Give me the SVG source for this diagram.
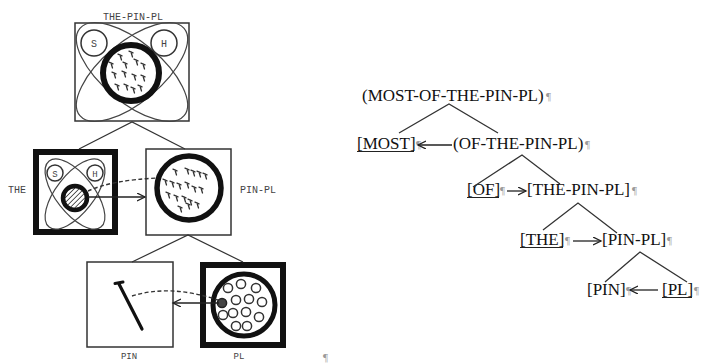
<svg xmlns="http://www.w3.org/2000/svg" xmlns:xlink="http://www.w3.org/1999/xlink" width="705" height="363" viewBox="0 0 705 363">
<style>
.bg{fill:#fff}
.box{fill:#fff;stroke:#333;stroke-width:1.5}
.tbox{fill:#fff;stroke:#111;stroke-width:6}
.thin{fill:none;stroke:#444;stroke-width:1.2}
.conn{fill:none;stroke:#333;stroke-width:1.2}
.dash{fill:none;stroke:#333;stroke-width:1.4;stroke-dasharray:4 2.5}
.sml{fill:none;stroke:#333;stroke-width:1.5}
.mono{font-family:"Liberation Mono","DejaVu Sans Mono",monospace;font-size:10px;fill:#444}
.lab{font-family:"Liberation Serif","Times New Roman",serif;font-size:17px;fill:#111}
.pil{font-family:"Liberation Serif","Times New Roman",serif;font-size:11px;fill:#999}
.tl{fill:none;stroke:#333;stroke-width:1.3}
.ul{stroke:#222;stroke-width:1}
.arr{fill:none;stroke:#222;stroke-width:1.3}
</style>
<defs>
<marker id="ah" markerUnits="userSpaceOnUse" markerWidth="10" markerHeight="10" refX="8" refY="4" orient="auto">
<path d="M0,0 L8,4 L0,8" fill="none" stroke="#222" stroke-width="1.3"/>
</marker>
<g id="n"><path d="M-2,-0.9 L2,0.9 M0,0 L1.5,5" fill="none" stroke="#333" stroke-width="1.3" stroke-linecap="round"/></g>
<pattern id="hatch" patternUnits="userSpaceOnUse" width="3.5" height="3.5" patternTransform="rotate(45)">
<rect width="3.5" height="3.5" fill="#fff"/>
<line x1="0" y1="0" x2="0" y2="3.5" stroke="#333" stroke-width="1.6"/>
</pattern>
</defs>
<rect class="bg" width="705" height="363"/>

<g id="the-pin-pl">
<text class="mono" x="133" y="20" text-anchor="middle">THE-PIN-PL</text>
<rect class="box" x="75" y="23" width="114" height="98"/>
<ellipse class="thin" cx="132" cy="72" rx="68" ry="30" transform="rotate(40 132 72)"/>
<ellipse class="thin" cx="132" cy="72" rx="68" ry="30" transform="rotate(-40 132 72)"/>
<circle class="sml" cx="94" cy="43" r="13" fill="#fff"/>
<circle class="sml" cx="164" cy="43" r="13" fill="#fff"/>
<text class="mono" x="94" y="46.5" text-anchor="middle">S</text>
<text class="mono" x="164" y="46.5" text-anchor="middle">H</text>
<circle cx="131" cy="73" r="28" fill="#fff" stroke="#111" stroke-width="6"/>
<use xlink:href="#n" x="120" y="55"/><use xlink:href="#n" x="131" y="52"/>
<use xlink:href="#n" x="111" y="63"/><use xlink:href="#n" x="125" y="63"/>
<use xlink:href="#n" x="136" y="60"/><use xlink:href="#n" x="143" y="64"/>
<use xlink:href="#n" x="114" y="73"/><use xlink:href="#n" x="124" y="72"/>
<use xlink:href="#n" x="134" y="75"/><use xlink:href="#n" x="143" y="76"/>
<use xlink:href="#n" x="117" y="85"/><use xlink:href="#n" x="126" y="85"/>
<use xlink:href="#n" x="133" y="88"/><use xlink:href="#n" x="140" y="86"/>
</g>

<g id="the">
<text class="mono" x="8" y="193">THE</text>
<rect class="tbox" x="36" y="152" width="79" height="80"/>
<ellipse class="thin" cx="75" cy="194" rx="42" ry="19" transform="rotate(52 75 194)"/>
<ellipse class="thin" cx="75" cy="194" rx="42" ry="19" transform="rotate(-52 75 194)"/>
<circle class="sml" cx="55" cy="173" r="8" fill="#fff"/>
<circle class="sml" cx="95" cy="173" r="8" fill="#fff"/>
<text class="mono" x="55" y="176.5" text-anchor="middle" style="font-size:9px">S</text>
<text class="mono" x="95" y="176.5" text-anchor="middle" style="font-size:9px">H</text>
<circle cx="75" cy="198" r="12" fill="url(#hatch)" stroke="#111" stroke-width="4.5"/>
</g>

<g id="pin-pl">
<text class="mono" x="240" y="193">PIN-PL</text>
<rect class="box" x="146" y="149" width="85" height="86"/>
<circle cx="189" cy="188" r="32" fill="#fff" stroke="#111" stroke-width="5.5"/>
<use xlink:href="#n" x="175" y="170"/><use xlink:href="#n" x="187" y="169"/>
<use xlink:href="#n" x="193" y="171"/><use xlink:href="#n" x="199" y="172"/>
<use xlink:href="#n" x="205" y="174"/><use xlink:href="#n" x="165" y="180"/>
<use xlink:href="#n" x="172" y="182"/><use xlink:href="#n" x="179" y="184"/>
<use xlink:href="#n" x="187" y="183"/><use xlink:href="#n" x="194" y="187"/>
<use xlink:href="#n" x="201" y="188"/><use xlink:href="#n" x="168" y="193"/>
<use xlink:href="#n" x="176" y="196"/><use xlink:href="#n" x="184" y="197"/>
<use xlink:href="#n" x="190" y="200"/><use xlink:href="#n" x="180" y="207"/>
<use xlink:href="#n" x="188" y="204"/><use xlink:href="#n" x="197" y="203"/>
</g>

<g id="pin">
<rect class="box" x="87" y="262" width="86" height="85"/>
<path d="M119,284 L142,329" stroke="#111" stroke-width="3.2" stroke-linecap="round"/>
<path d="M115,283.5 L123,282" stroke="#111" stroke-width="3" stroke-linecap="round"/>
<text class="mono" x="129" y="359" text-anchor="middle" style="font-size:9px">PIN</text>
</g>

<g id="pl">
<rect class="tbox" x="203" y="265" width="80" height="80"/>
<circle cx="244" cy="305" r="31" fill="#fff" stroke="#111" stroke-width="5"/>
<g class="sml" fill="#fff">
<circle cx="228" cy="288" r="4.6"/><circle cx="241" cy="284" r="4.6"/><circle cx="256" cy="288" r="4.6"/>
<circle cx="236" cy="300" r="4.6"/><circle cx="249" cy="299" r="4.6"/><circle cx="262" cy="302" r="4.6"/>
<circle cx="223" cy="315" r="4.6"/><circle cx="233" cy="313" r="4.6"/><circle cx="246" cy="312" r="4.6"/>
<circle cx="259" cy="317" r="4.6"/><circle cx="236" cy="326" r="4.6"/><circle cx="247" cy="326" r="4.6"/>
</g>
<circle cx="222" cy="303" r="4.6" fill="#444" stroke="#222" stroke-width="1.5"/>
<text class="mono" x="239" y="359" text-anchor="middle" style="font-size:9px">PL</text>
</g>
<text class="pil" x="323" y="361">¶</text>

<g id="r1">
<text class="lab" x="362" y="101">(MOST-OF-THE-PIN-PL)</text>
<text class="pil" x="546" y="100">¶</text>
</g>
<g id="r2-most">
<text class="lab" x="357" y="149">[MOST]</text>
<line class="ul" x1="357" y1="151.5" x2="414" y2="151.5"/>
<text class="pil" x="416" y="148">¶</text>
</g>
<g id="r2-of-the">
<text class="lab" x="453" y="149">(OF-THE-PIN-PL)</text>
<text class="pil" x="585" y="148">¶</text>
</g>
<g id="r3-of">
<text class="lab" x="467" y="195">[OF]</text>
<line class="ul" x1="467" y1="197.5" x2="499" y2="197.5"/>
<text class="pil" x="500" y="194">¶</text>
</g>
<g id="r3-the-pin-pl">
<text class="lab" x="527" y="195">[THE-PIN-PL]</text>
<text class="pil" x="632" y="194">¶</text>
</g>
<g id="r4-the">
<text class="lab" x="520" y="245">[THE]</text>
<line class="ul" x1="520" y1="247.5" x2="563" y2="247.5"/>
<text class="pil" x="565" y="244">¶</text>
</g>
<g id="r4-pin-pl">
<text class="lab" x="602" y="245">[PIN-PL]</text>
<text class="pil" x="667" y="244">¶</text>
</g>
<g id="r5-pin">
<text class="lab" x="587" y="295">[PIN]</text>
<text class="pil" x="626" y="294">¶</text>
</g>
<g id="r5-pl">
<text class="lab" x="662" y="295">[PL]</text>
<line class="ul" x1="662" y1="297.5" x2="692" y2="297.5"/>
<text class="pil" x="694" y="294">¶</text>
</g>

<g id="connectors">
<path class="conn" d="M79,149 L132,122 L185,149"/>
<path class="conn" d="M132,262 L188,235 L243,262"/>
<path class="dash" d="M88,191 Q112,180 158,178"/>
<path class="arr" d="M88,197 L145,197" marker-end="url(#ah)"/>
<path class="dash" d="M132,296 Q170,284 218,300"/>
<path class="arr" d="M219,303 L173,303" marker-end="url(#ah)"/>
<path class="tl" d="M399,133 L449,104 L498,133"/>
<path class="tl" d="M473,187 L522,155 L560,184"/>
<path class="tl" d="M543,230 L578,203 L617,233"/>
<path class="tl" d="M605,282 L640,252 L687,282"/>
<path class="arr" d="M452,145 L418,145" marker-end="url(#ah)"/>
<path class="arr" d="M507,191 L526,191" marker-end="url(#ah)"/>
<path class="arr" d="M573,241 L601,241" marker-end="url(#ah)"/>
<path class="arr" d="M658,290 L630,290" marker-end="url(#ah)"/>
</g>
</svg>
